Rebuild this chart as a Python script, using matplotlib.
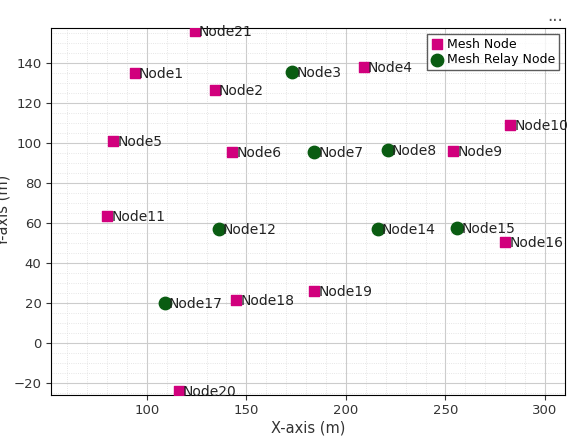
import matplotlib
matplotlib.use("Agg")
import matplotlib.pyplot as plt
from matplotlib.ticker import MultipleLocator

mesh_names = ["Node21","Node1","Node2","Node4","Node10","Node5","Node6","Node9","Node11","Node16","Node18","Node19","Node20"]
mesh_x = [124,94,134,209,282.5,83,143,254,80,280,145,184,116]
mesh_y = [156,135,126.5,138,109,101,95.5,96,63.5,50.5,21.5,26,-24]
relay_names = ["Node3","Node7","Node8","Node12","Node14","Node15","Node17"]
relay_x = [173,184,221,136,216,256,109]
relay_y = [135.5,95.5,96.5,57,57,57.5,20]

fig = plt.figure(figsize=(5.83,4.37), dpi=100)
ax = fig.add_axes([0.088,0.097,0.881,0.84])
ax.scatter(mesh_x, mesh_y, marker='s', s=50, color='#d1007d', label='Mesh Node', zorder=3)
ax.scatter(relay_x, relay_y, marker='o', s=80, color='#0a5c12', label='Mesh Relay Node', zorder=3)
for n,x,y in zip(mesh_names+relay_names, mesh_x+relay_x, mesh_y+relay_y):
    ax.annotate(n,(x,y),xytext=(3,-1),textcoords='offset points',va='center',ha='left',fontsize=10,color='#222222')
ax.set_xlim(52,310)
ax.set_ylim(-26,157.5)
ax.xaxis.set_major_locator(MultipleLocator(50))
ax.yaxis.set_major_locator(MultipleLocator(20))
ax.xaxis.set_minor_locator(MultipleLocator(10))
ax.yaxis.set_minor_locator(MultipleLocator(5))
ax.grid(which='major', color='#cccccc', lw=0.8)
ax.grid(which='minor', color='#dddddd', lw=0.6, ls=':')
ax.set_axisbelow(True)
ax.set_xlabel('X-axis (m)', fontsize=10.5, color='#333333', labelpad=2)
ax.set_ylabel('Y-axis (m)', fontsize=10.5, color='#333333', labelpad=2)
ax.tick_params(labelsize=9.5, colors='#333333')
ax.tick_params(which='minor', length=0)
leg = ax.legend(loc='upper right', fontsize=9, fancybox=False, edgecolor='#333333', handletextpad=0.3, borderpad=0.3, labelspacing=0.2, handlelength=1)
fig.text(0.965,0.985,'...',ha='right',va='top',fontsize=12,color='#555555')
fig.savefig('out.png')
